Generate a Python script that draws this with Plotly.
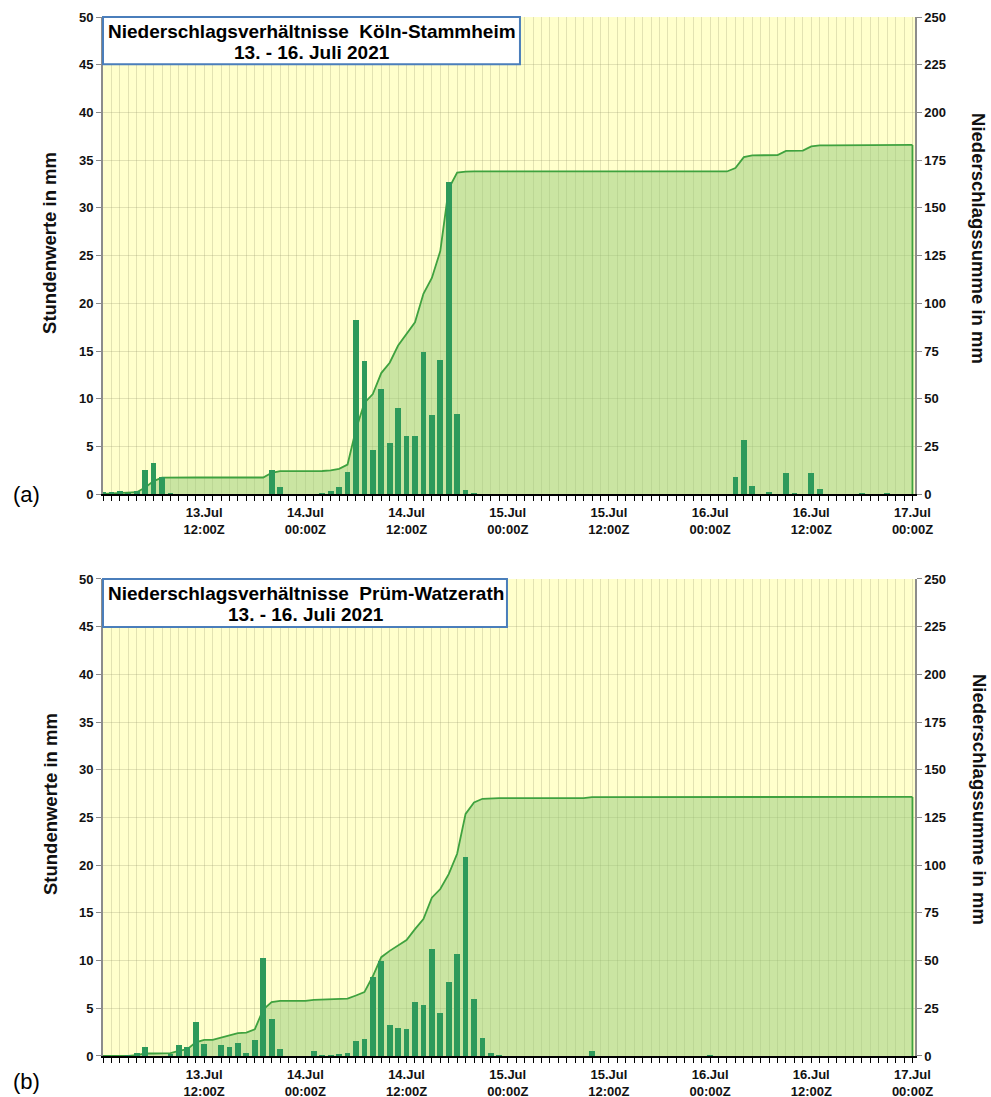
import numpy as np
import plotly.graph_objects as go

# ---------------- data ----------------
hours = list(range(97))  # hours since 13 Jul 2021 00:00Z

koeln_hourly = [
    0.2, 0.2, 0.3, 0.1, 0.3, 2.5, 3.3, 1.8, 0.1, 0, 0, 0,
    0, 0, 0, 0, 0, 0, 0, 0, 2.5, 0.8, 0, 0,
    0, 0, 0.1, 0.3, 0.8, 2.3, 18.3, 14.0, 4.6, 11.0, 5.4, 9.0,
    6.1, 6.1, 14.9, 8.3, 14.1, 32.7, 8.4, 0.5, 0.1, 0, 0, 0,
    0, 0, 0, 0, 0, 0, 0, 0, 0, 0, 0, 0,
    0, 0, 0, 0, 0, 0, 0, 0, 0, 0, 0, 0,
    0, 0, 0, 1.8, 5.7, 0.9, 0, 0.2, 0, 2.2, 0.1, 0,
    2.2, 0.6, 0, 0, 0, 0, 0.1, 0, 0, 0.1, 0, 0,
    0,
]

pruem_hourly = [
    0, 0, 0, 0.1, 0.3, 0.9, 0, 0, 0.2, 1.2, 0.9, 3.6,
    1.3, 0, 1.2, 0.9, 1.4, 0.3, 1.7, 10.3, 3.9, 0.7, 0, 0,
    0, 0.5, 0.1, 0.1, 0.2, 0.3, 1.6, 1.8, 8.3, 10.0, 3.3, 2.9,
    2.8, 5.7, 5.3, 11.2, 4.5, 7.8, 10.7, 20.9, 6.0, 1.9, 0.3, 0.1,
    0, 0, 0, 0, 0, 0, 0, 0, 0, 0, 0.5, 0,
    0, 0, 0, 0, 0, 0, 0, 0, 0, 0, 0, 0,
    0.1, 0, 0, 0, 0, 0, 0, 0, 0, 0, 0, 0,
    0, 0, 0, 0, 0, 0, 0, 0, 0, 0, 0, 0,
    0,
]

# Niederschlagssumme = running total of the hourly values
koeln_sum = np.cumsum(koeln_hourly)
pruem_sum = np.cumsum(pruem_hourly)

label_hours = [12, 24, 36, 48, 60, 72, 84, 96]
label_texts = ["13.Jul<br>12:00Z", "14.Jul<br>00:00Z", "14.Jul<br>12:00Z", "15.Jul<br>00:00Z",
               "15.Jul<br>12:00Z", "16.Jul<br>00:00Z", "16.Jul<br>12:00Z", "17.Jul<br>00:00Z"]
tick_text = [label_texts[label_hours.index(h)] if h in label_hours else "" for h in hours]

stations = ["Köln-Stammheim", "Prüm-Watzerath"]
period = "13. - 16. Juli 2021"

# ---------------- style ----------------
FONT = "Liberation Sans"
BAR = "#2E9A5B"
LINE = "#3FA23F"
FILL = "rgba(150,203,120,0.5)"
GRID = "rgba(150,150,110,0.28)"
BG = "#FFFFCC"

fig = go.Figure()

panels = [
    (koeln_hourly, koeln_sum, "x", "y", "y2"),
    (pruem_hourly, pruem_sum, "x2", "y3", "y4"),
]
for hourly, total, xa, ya_sum, ya_bar in panels:
    fig.add_trace(go.Scatter(x=hours, y=total, xaxis=xa, yaxis=ya_sum, mode="lines",
                             fill="tozeroy", fillcolor=FILL, line=dict(color=LINE, width=1.8),
                             showlegend=False, hoverinfo="skip"))
    fig.add_trace(go.Scatter(x=[hours[-1], hours[-1]], y=[0, total[-1]], xaxis=xa, yaxis=ya_sum,
                             mode="lines", line=dict(color=LINE, width=1.8),
                             showlegend=False, hoverinfo="skip"))
    fig.add_trace(go.Bar(x=hours, y=hourly, xaxis=xa, yaxis=ya_bar, width=0.68,
                         marker=dict(color=BAR, line=dict(width=0)), showlegend=False))

tickfont = dict(family=FONT, size=13, color="#111111", weight="bold")

def xaxis(anchor):
    return dict(domain=[0, 1], anchor=anchor, range=[0, 96.3], tickmode="array",
                tickvals=hours, ticktext=tick_text, tickangle=0, ticks="outside", ticklen=5,
                tickwidth=1, tickcolor="#000000", showline=True, linecolor="#000000",
                linewidth=2, showgrid=True, gridcolor=GRID, gridwidth=1, zeroline=False,
                tickfont=tickfont, automargin=False, fixedrange=True)

def yaxis_sum(domain, anchor):
    return dict(domain=domain, anchor=anchor, side="right", range=[0, 250], tick0=0, dtick=25,
                ticks="outside", ticklen=5, tickcolor="#888888", showline=True,
                linecolor="#8C8C8C", linewidth=1.5, showgrid=True, gridcolor=GRID,
                zeroline=False, tickfont=tickfont, automargin=False, fixedrange=True)

def yaxis_bar(over, anchor):
    return dict(overlaying=over, anchor=anchor, side="left", range=[0, 50], tick0=0, dtick=5,
                ticks="outside", ticklen=5, tickcolor="#888888", showline=True,
                linecolor="#8C8C8C", linewidth=2, showgrid=False, zeroline=False,
                tickfont=tickfont, automargin=False, fixedrange=True)

dom_a = [0.5406, 1.0]
dom_b = [0.0, 0.4591]

shapes = []
annotations = []
boxes = [("x domain", "y domain", 0.5135, 0.901, 0.2574, 0.970, 0.9253, stations[0]),
         ("x2 domain", "y3 domain", 0.4975, 0.8994, 0.2494, 0.9706, 0.9266, stations[1])]
for xr, yr, x1, y0, xc, yl1, yl2, name in boxes:
    shapes.append(dict(type="rect", xref=xr, yref=yr, x0=0, x1=x1, y0=y0, y1=1,
                       fillcolor="white", line=dict(color="#4A7EBB", width=2), layer="above"))
    annotations.append(dict(xref=xr, yref=yr, x=xc, y=yl1, xanchor="center", yanchor="middle",
                            text="Niederschlagsverhältnisse  " + name, showarrow=False,
                            font=dict(family=FONT, size=19, color="#000000", weight="bold")))
    annotations.append(dict(xref=xr, yref=yr, x=xc, y=yl2, xanchor="center", yanchor="middle",
                            text=period, showarrow=False,
                            font=dict(family=FONT, size=19, color="#000000", weight="bold")))

title_font = dict(family=FONT, size=18.5, color="#111111", weight="bold")
for yl, yr in [(0.7825, 0.7863), (0.2425, 0.2464)]:
    annotations.append(dict(xref="paper", yref="paper", x=-0.0653, y=yl, textangle=-90,
                            text="Stundenwerte in mm", showarrow=False, font=title_font,
                            xanchor="center", yanchor="middle"))
    annotations.append(dict(xref="paper", yref="paper", x=1.0788, y=yr, textangle=90,
                            text="Niederschlagssumme in mm", showarrow=False, font=title_font,
                            xanchor="center", yanchor="middle"))

for lab, yy in [("(a)", 0.5409), ("(b)", -0.025)]:
    annotations.append(dict(xref="paper", yref="paper", x=-0.0936, y=yy, text=lab,
                            showarrow=False, xanchor="center", yanchor="middle",
                            font=dict(family=FONT, size=22, color="#000000")))

fig.update_layout(
    width=991, height=1097,
    margin=dict(l=103, r=76, t=17, b=41),
    paper_bgcolor="white", plot_bgcolor=BG,
    bargap=0, showlegend=False,
    xaxis=xaxis("y"), yaxis=yaxis_sum(dom_a, "x"), yaxis2=yaxis_bar("y", "x"),
    xaxis2=xaxis("y3"), yaxis3=yaxis_sum(dom_b, "x2"), yaxis4=yaxis_bar("y3", "x2"),
    shapes=shapes, annotations=annotations,
)

fig.write_html(
    "out.html",
    config={"displayModeBar": False},
    post_script="document.body.style.margin='0';document.body.style.overflow='hidden';",
)
